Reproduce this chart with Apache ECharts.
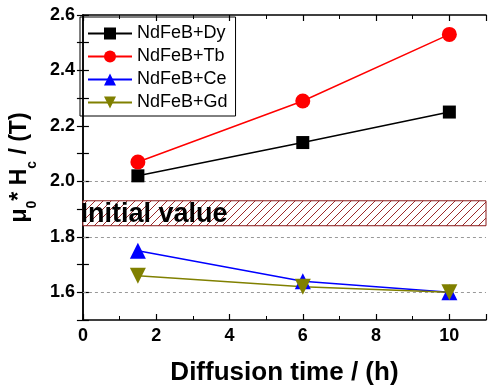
<!DOCTYPE html>
<html><head><meta charset="utf-8">
<script src="https://cdn.jsdelivr.net/npm/echarts@6/dist/echarts.min.js"></script>
<style>html,body{margin:0;padding:0;background:#fff}#c{width:489px;height:391px}</style>
</head><body><div id="c"></div>
<script>
const timeH = [1.5, 6, 10];
const dy = [2.02, 2.14, 2.25];
const tb = [2.07, 2.29, 2.53];
const ce = [1.75, 1.64, 1.60];
const gd = [1.66, 1.62, 1.60];
const gridValues = [1.6, 1.8, 2.0];
const initialBand = [1.84, 1.93];
const bandLabel = 'Initial value';
const names = ['NdFeB+Dy', 'NdFeB+Tb', 'NdFeB+Ce', 'NdFeB+Gd'];

const F = '"Liberation Sans", Arial, sans-serif';
function pair(ys){ return timeH.map((x,i)=>[x, ys[i]]); }

const N = 8;
const pc = document.createElement('canvas');
pc.width = N; pc.height = N;
const ctx = pc.getContext('2d');
ctx.fillStyle = '#fff'; ctx.fillRect(0,0,N,N);
ctx.strokeStyle = '#9a2a2a'; ctx.lineWidth = 1;
ctx.beginPath(); ctx.moveTo(-1,N+1); ctx.lineTo(N+1,-1); ctx.stroke();

const chart = echarts.init(document.getElementById('c'));
const tickSty = {inside: true, length: 6, lineStyle: {color: '#000', width: 1.2}};
const lineSty = {lineStyle: {color: '#000', width: 1.5}};
const xMinor = {show: true, splitNumber: 2, length: 4, lineStyle: {color: '#000', width: 1}};
const yLabelFmt = v => (Math.round(v*10) % 2 === 0 && Math.round(v*10) !== 15) ? v.toFixed(1) : '';
const mk = (sym, size, color, rot) => ({symbol: sym, symbolSize: size, symbolRotate: rot||0,
  itemStyle: {color: color}, lineStyle: {color: color, width: 1.5}, z: 5});
const series = [
  Object.assign({name: names[0], type: 'line', data: pair(dy)}, mk('rect', 13, '#000')),
  Object.assign({name: names[1], type: 'line', data: pair(tb)}, mk('circle', 15, '#ff0000')),
  Object.assign({name: names[2], type: 'line', data: pair(ce)}, mk('triangle', 16, '#0000ff')),
  Object.assign({name: names[3], type: 'line', data: pair(gd)}, mk('triangle', 16, '#808000', 180)),
  {name: 'band', type: 'line', data: [], silent: true,
   markLine: {silent: true, symbol: 'none', label: {show: false},
     lineStyle: {color: '#999', type: [3,3], width: 1},
     data: gridValues.map(v => ({yAxis: v}))},
   markArea: {silent: true,
     itemStyle: {color: {image: pc, repeat: 'repeat'}, borderColor: '#8b1a1a', borderWidth: 1},
     label: {show: true, position: 'insideLeft', offset: [-7, 1], formatter: bandLabel,
       color: '#000', fontFamily: F, fontWeight: 'bold', fontSize: 27},
     data: [[{yAxis: initialBand[0], xAxis: 0}, {yAxis: initialBand[1], xAxis: 11}]]}
  }
];
chart.setOption({
  animation: false,
  grid: {left: 74, right: 3, top: 15, bottom: 67},
  legend: {
    data: names, orient: 'vertical', left: 80, top: 17,
    itemWidth: 44, itemHeight: 15, itemGap: 4,
    padding: [7, 8, 4, 7],
    borderColor: '#000', borderWidth: 1,
    textStyle: {fontFamily: F, fontSize: 18, color: '#000', lineHeight: 19}
  },
  xAxis: [{
    type: 'value', min: 0, max: 11, interval: 2,
    name: 'Diffusion time / (h)', nameLocation: 'middle', nameGap: 40,
    nameTextStyle: {fontFamily: F, fontWeight: 'bold', fontSize: 26, color: '#000'},
    axisLine: lineSty, axisTick: tickSty, minorTick: xMinor, splitLine: {show: false},
    axisLabel: {fontFamily: F, fontWeight: 'bold', fontSize: 18, color: '#000', margin: 7,
      formatter: v => v > 10 ? '' : v}
  }, {
    type: 'value', min: 0, max: 11, interval: 2, position: 'top',
    axisLine: lineSty, axisTick: tickSty, minorTick: xMinor, splitLine: {show: false},
    axisLabel: {show: false}
  }],
  yAxis: [{
    type: 'value', min: 1.5, max: 2.6, interval: 0.1,
    name: '{b|μ}{s|0}{b|* H}{s|c}{b| / (T)}', nameLocation: 'middle', nameGap: 48, nameRotate: 90,
    nameTextStyle: {rich: {
      b: {fontFamily: F, fontWeight: 'bold', fontSize: 23, color: '#000', verticalAlign: 'bottom', lineHeight: 28},
      s: {fontFamily: F, fontWeight: 'bold', fontSize: 14, color: '#000', verticalAlign: 'bottom', lineHeight: 20, padding: [0,0,-8,0]}
    }},
    axisLine: lineSty, axisTick: tickSty, splitLine: {show: false},
    axisLabel: {fontFamily: F, fontWeight: 'bold', fontSize: 18, color: '#000', margin: 8, formatter: yLabelFmt}
  }, {
    type: 'value', min: 1.5, max: 2.6, interval: 0.1, position: 'right',
    axisLine: lineSty, axisTick: tickSty, splitLine: {show: false},
    axisLabel: {show: false}
  }],
  series: series
});
</script></body></html>
